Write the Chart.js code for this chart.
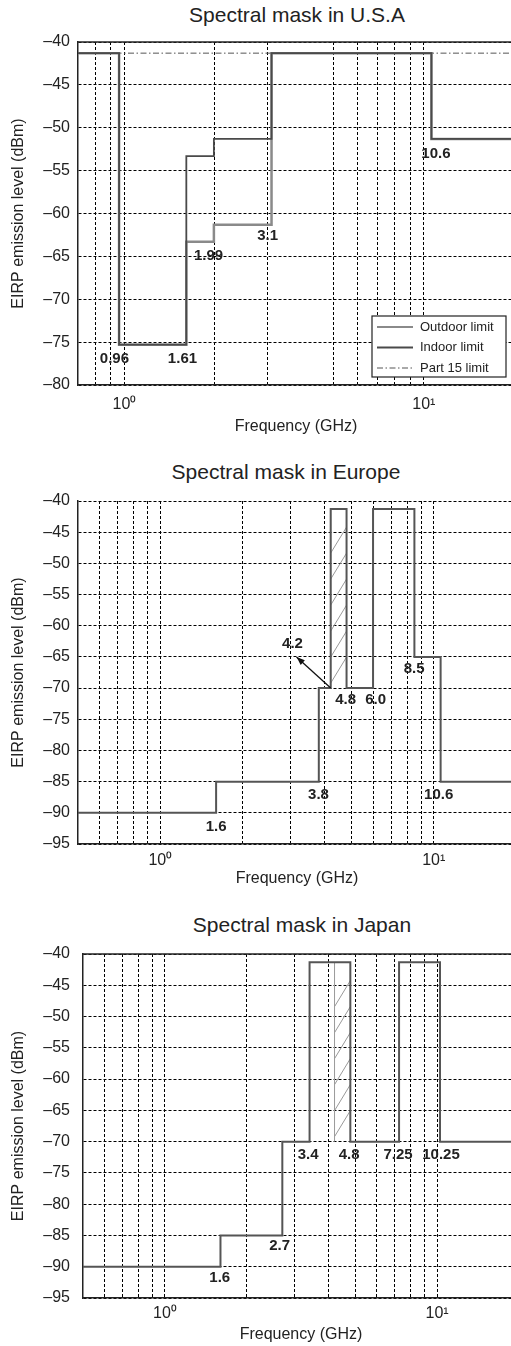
<!DOCTYPE html>
<html>
<head>
<meta charset="utf-8">
<script src="https://cdn.jsdelivr.net/npm/chart.js@4.4.0/dist/chart.umd.min.js"></script>
<style>
  html, body { margin: 0; padding: 0; background: #fff; overflow: hidden; }
  body { width: 511px; height: 1346px; position: relative; font-family: "Liberation Sans", Arial, sans-serif; }
  canvas { position: absolute; left: 0; }
  .title { position: absolute; width: 300px; height: 24px; line-height: 24px; text-align: center; font-size: 21px; color: #222; }
</style>
</head>
<body>
<div class="title" style="left:147px; top:3px;">Spectral mask in U.S.A</div>
<div class="title" style="left:136px; top:460px;">Spectral mask in Europe</div>
<div class="title" style="left:152px; top:913px;">Spectral mask in Japan</div>
<canvas id="usa" width="514" height="440" style="top:0px; width:514px; height:440px;"></canvas>
<canvas id="eu" width="516" height="450" style="top:440px; width:516px; height:450px;"></canvas>
<canvas id="jp" width="519" height="456" style="top:890px; width:519px; height:456px;"></canvas>
<script>
// ---- U.S.A ----
var usaEdges = [0.7, 0.96, 1.61, 1.99, 3.1, 10.6, 20];
var usaOutdoor = [-41.3, -75.3, -63.3, -61.3, -41.3, -51.3];
var usaIndoor = [-41.3, -75.3, -53.3, -51.3, -41.3, -51.3];
var usaPart15Edges = [0.7, 20];
var usaPart15 = [-41.3];
var usaGrid = [0.8, 0.9, 1, 2, 3, 5, 6, 7, 8, 9, 10];
var usaNoteText = ['0.96', '1.61', '1.99', '3.1', '10.6'];
var usaNoteX = [0.926, 1.563, 1.91, 3.01, 10.97];
var usaNoteY = [-76.9, -76.9, -64.9, -62.6, -53.0];

// ---- Europe ----
var euEdges = [0.5, 1.6, 3.8, 4.2, 4.8, 6.0, 8.5, 10.6, 20];
var euLevels = [-90, -85, -70, -41.3, -70, -41.3, -65, -85];
var euGrid = [0.6, 0.7, 0.8, 0.9, 1, 2, 3, 4, 5, 6, 7, 8, 9, 10];
var euHatch = [[4.2, 4.8, -70, -41.3]];
var euNoteText = ['4.2', '4.8', '6.0', '8.5', '3.8', '10.6', '1.6'];
var euNoteX = [3.045, 4.76, 6.13, 8.48, 3.79, 10.43, 1.60];
var euNoteY = [-62.9, -71.9, -71.9, -66.9, -87.1, -87.1, -92.3];
var euArrow = [[4.2, -70], [3.15, -65]];

// ---- Japan ----
var jpEdges = [0.5, 1.6, 2.7, 3.4, 4.8, 7.25, 10.25, 20];
var jpLevels = [-90, -85, -70, -41.3, -70, -41.3, -70];
var jpGrid = [0.6, 0.7, 0.8, 0.9, 1, 2, 3, 4, 5, 6, 7, 8, 9, 10];
var jpHatch = [[4.2, 4.8, -70, -41.3]];
var jpNoteText = ['3.4', '4.8', '7.25', '10.25', '2.7', '1.6'];
var jpNoteX = [3.36, 4.75, 7.19, 10.34, 2.64, 1.59];
var jpNoteY = [-72.1, -72.1, -72.1, -72.1, -86.7, -91.8];

Chart.defaults.font.family = '"Liberation Sans", Arial, Helvetica, sans-serif';
Chart.defaults.color = '#222';

var FONT = '"Liberation Sans", Arial, Helvetica, sans-serif';

// turn band edges + levels into corner points of a step line
function steps(edges, levels) {
  var pts = [];
  levels.forEach(function (v, i) {
    pts.push({ x: edges[i], y: v });
    pts.push({ x: edges[i + 1], y: v });
  });
  return pts;
}

function extras(o) {
  return {
    id: 'extras_' + o.id,
    beforeDatasetsDraw: function (chart) {
      var ctx = chart.ctx, ca = chart.chartArea, x = chart.scales.x, y = chart.scales.y;
      ctx.save();
      if (o.topBorder) {
        ctx.strokeStyle = '#222';
        ctx.lineWidth = 1.5;
        ctx.beginPath();
        ctx.moveTo(ca.left, ca.top);
        ctx.lineTo(ca.right, ca.top);
        ctx.stroke();
      }
      (o.hatch || []).forEach(function (h) {
        var l = x.getPixelForValue(h[0]), r = x.getPixelForValue(h[1]);
        var b = y.getPixelForValue(h[2]), t = y.getPixelForValue(h[3]);
        ctx.strokeStyle = '#999';
        ctx.lineWidth = 1;
        ctx.beginPath();
        ctx.moveTo(l, b);
        ctx.lineTo(l, t);
        ctx.stroke();
        ctx.save();
        ctx.beginPath();
        ctx.rect(l, t, r - l, b - t);
        ctx.clip();
        var rise = 26;
        for (var yb = b - 5; yb - rise > t - 4; yb -= rise) {
          ctx.beginPath();
          ctx.moveTo(l, yb);
          ctx.lineTo(r, yb - rise);
          ctx.stroke();
        }
        ctx.restore();
      });
      ctx.restore();
    },
    afterDatasetsDraw: function (chart) {
      var ctx = chart.ctx, x = chart.scales.x, y = chart.scales.y;
      ctx.save();
      if (o.arrow) {
        var x0 = x.getPixelForValue(o.arrow[0][0]), y0 = y.getPixelForValue(o.arrow[0][1]);
        var x1 = x.getPixelForValue(o.arrow[1][0]), y1 = y.getPixelForValue(o.arrow[1][1]);
        var a = Math.atan2(y1 - y0, x1 - x0);
        ctx.strokeStyle = '#111';
        ctx.fillStyle = '#111';
        ctx.lineWidth = 1.3;
        ctx.beginPath();
        ctx.moveTo(x0, y0);
        ctx.lineTo(x1, y1);
        ctx.stroke();
        ctx.beginPath();
        ctx.moveTo(x1, y1);
        ctx.lineTo(x1 - 9 * Math.cos(a - 0.35), y1 - 9 * Math.sin(a - 0.35));
        ctx.lineTo(x1 - 9 * Math.cos(a + 0.35), y1 - 9 * Math.sin(a + 0.35));
        ctx.closePath();
        ctx.fill();
      }
      ctx.fillStyle = '#222';
      ctx.font = 'bold 15px ' + FONT;
      ctx.textAlign = 'center';
      ctx.textBaseline = 'middle';
      o.noteText.forEach(function (t, i) {
        ctx.fillText(t, x.getPixelForValue(o.noteX[i]), y.getPixelForValue(o.noteY[i]));
      });
      ctx.restore();
    },
    afterDraw: function (chart) {
      if (!o.legend) return;
      var ctx = chart.ctx, ca = chart.chartArea;
      var w = 134, h = 61;
      var bx = ca.right - 8 - w, by = ca.bottom - 8 - h;
      ctx.save();
      ctx.fillStyle = '#fff';
      ctx.fillRect(bx, by, w, h);
      ctx.strokeStyle = '#222';
      ctx.lineWidth = 1.2;
      ctx.strokeRect(bx, by, w, h);
      chart.data.datasets.forEach(function (ds, i) {
        var cy = by + 11 + i * 20.5;
        ctx.strokeStyle = ds.borderColor;
        ctx.lineWidth = Math.min(ds.borderWidth, 2);
        ctx.setLineDash(ds.borderDash || []);
        ctx.beginPath();
        ctx.moveTo(bx + 5, cy);
        ctx.lineTo(bx + 41, cy);
        ctx.stroke();
        ctx.setLineDash([]);
        ctx.fillStyle = '#222';
        ctx.font = '13px ' + FONT;
        ctx.textAlign = 'left';
        ctx.textBaseline = 'middle';
        ctx.fillText(ds.label, bx + 48, cy);
      });
      ctx.restore();
    }
  };
}

function maskChart(o) {
  var gridVals = o.grid;
  return new Chart(document.getElementById(o.id), {
    type: 'line',
    data: { datasets: o.datasets },
    options: {
      responsive: false,
      animation: false,
      layout: { padding: { top: o.padTop, left: 0, right: 0, bottom: 0 } },
      plugins: { legend: { display: false }, tooltip: { enabled: false }, title: { display: false } },
      elements: { point: { radius: 0 }, line: { tension: 0 } },
      scales: {
        x: {
          type: 'logarithmic',
          min: o.xMin,
          max: o.xMax,
          afterBuildTicks: function (s) { s.ticks = gridVals.map(function (v) { return { value: v }; }); },
          afterFit: function (s) { s.height = o.xH; },
          grid: { color: '#000', lineWidth: 1, drawTicks: false },
          border: { display: true, color: '#222', width: 1.5, dash: [3, 2] },
          ticks: {
            autoSkip: false, maxRotation: 0, padding: o.xTickPad, color: '#222', font: { size: 16 },
            callback: function (v) {
              if (Math.abs(v - 1) < 1e-9) return '10\u2070';
              if (Math.abs(v - 10) < 1e-9) return '10\u00b9';
              return '';
            }
          },
          title: { display: true, text: 'Frequency (GHz)', color: '#222', font: { size: 16 }, padding: { top: 0, bottom: o.xTitlePad } }
        },
        y: {
          min: o.yMin,
          max: -40,
          afterFit: function (s) { s.width = o.yW; },
          grid: { color: '#000', lineWidth: 1, drawTicks: false },
          border: { display: true, color: '#222', width: 1.5, dash: [3, 2] },
          ticks: {
            stepSize: 5, padding: o.yTickPad, color: '#222', font: { size: 16 },
            callback: function (v) { return '\u2013' + Math.abs(v); }
          },
          title: { display: true, text: 'EIRP emission level (dBm)', color: '#222', font: { size: 16 }, padding: { top: 9, bottom: 0 } }
        }
      }
    },
    plugins: [extras(o)]
  });
}

maskChart({
  id: 'usa', xMin: 0.7, xMax: 20, yMin: -80, grid: usaGrid,
  padTop: 42, yW: 78, xH: 55, xTickPad: 10, xTitlePad: 4, yTickPad: 8,
  topBorder: true, legend: true,
  noteText: usaNoteText, noteX: usaNoteX, noteY: usaNoteY,
  datasets: [
    { label: 'Outdoor limit', data: steps(usaEdges, usaOutdoor), borderColor: '#8a8a8a', borderWidth: 2.5, order: 2 },
    { label: 'Indoor limit', data: steps(usaEdges, usaIndoor), borderColor: '#4a4a4a', borderWidth: 1.8, order: 1 },
    { label: 'Part 15 limit', data: steps(usaPart15Edges, usaPart15), borderColor: '#555', borderWidth: 1, borderDash: [6, 2.5, 1.5, 2.5], order: 3 }
  ]
});

maskChart({
  id: 'eu', xMin: 0.5, xMax: 20, yMin: -95, grid: euGrid,
  padTop: 61, yW: 78, xH: 46, xTickPad: 7, xTitlePad: 2, yTickPad: 8,
  topBorder: false, hatch: euHatch, arrow: euArrow,
  noteText: euNoteText, noteX: euNoteX, noteY: euNoteY,
  datasets: [
    { label: 'Europe', data: steps(euEdges, euLevels), borderColor: '#555', borderWidth: 2 }
  ]
});

maskChart({
  id: 'jp', xMin: 0.5, xMax: 20, yMin: -95, grid: jpGrid,
  padTop: 64, yW: 83, xH: 48, xTickPad: 6, xTitlePad: 2, yTickPad: 13,
  topBorder: true, hatch: jpHatch,
  noteText: jpNoteText, noteX: jpNoteX, noteY: jpNoteY,
  datasets: [
    { label: 'Japan', data: steps(jpEdges, jpLevels), borderColor: '#555', borderWidth: 2 }
  ]
});
</script>
</body>
</html>
